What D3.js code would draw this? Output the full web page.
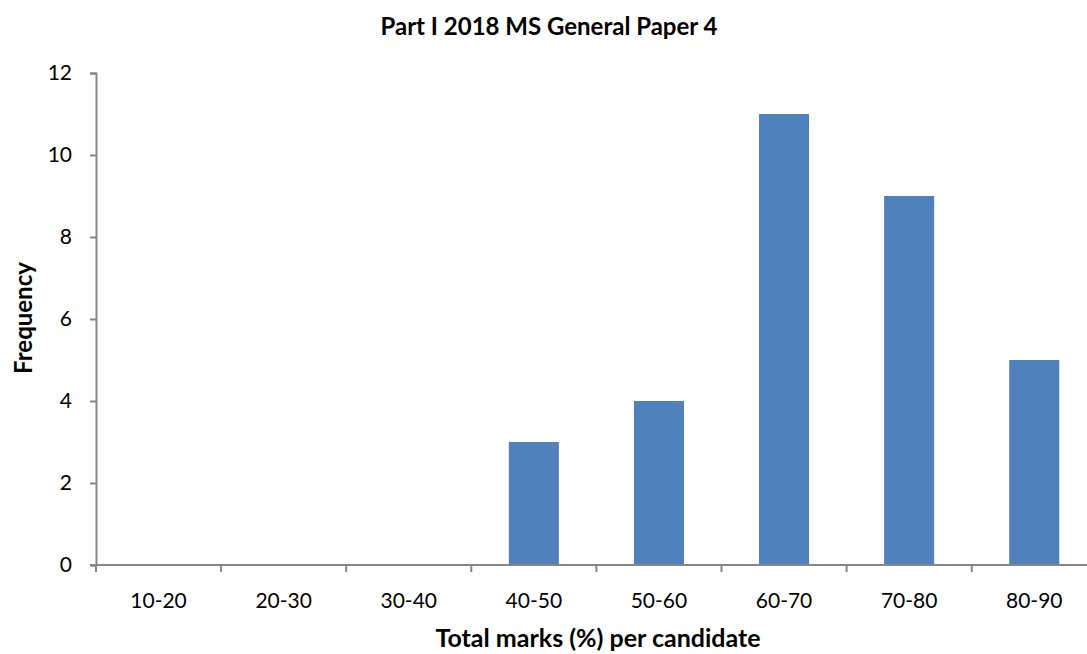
<!DOCTYPE html>
<html>
<head>
<meta charset="utf-8">
<script src="https://cdn.jsdelivr.net/npm/d3@7"></script>
<style>
  html, body { margin: 0; padding: 0; background: #fff; overflow: hidden; }
  svg { display: block; font-family: Lato, "Open Sans", sans-serif; }
</style>
</head>
<body>
<svg id="chart" width="1087" height="654"></svg>
<script>
// Mark bands and number of candidates in each
const categories = ["10-20", "20-30", "30-40", "40-50", "50-60", "60-70", "70-80", "80-90"];
const frequency = [0, 0, 0, 3, 4, 11, 9, 5];
const yTicks = [0, 2, 4, 6, 8, 10, 12];

const svg = d3.select("#chart");
const plot = { left: 96, top: 73, bottom: 565, step: 125.1 };
plot.right = plot.left + plot.step * categories.length;

const x = d3.scaleBand()
  .domain(categories)
  .range([plot.left, plot.right])
  .paddingInner(0.6)
  .paddingOuter(0.3);

const y = d3.scaleLinear().domain([0, 12]).range([plot.bottom, plot.top]);

const axisColor = "#868686";

// Bars
svg.append("g").selectAll("rect")
  .data(categories.map((c, i) => ({ c, v: frequency[i] })))
  .join("rect")
  .attr("x", d => x(d.c))
  .attr("y", d => y(d.v))
  .attr("width", x.bandwidth())
  .attr("height", d => y(0) - y(d.v))
  .attr("fill", "#4F81BD");

// Y axis
const yAxis = svg.append("g")
  .attr("transform", `translate(${plot.left},0)`)
  .call(d3.axisLeft(y).tickValues(yTicks).tickSize(6).tickPadding(18));
yAxis.select(".domain").attr("stroke", axisColor).attr("stroke-width", 2);
yAxis.selectAll(".tick line").attr("stroke", axisColor).attr("stroke-width", 2);
yAxis.selectAll(".tick text")
  .attr("fill", "#000").attr("font-size", 21).attr("font-family", "Lato, sans-serif");

// X axis: line with boundary ticks between bands
const xAxisG = svg.append("g");
xAxisG.append("line")
  .attr("x1", plot.left - 6).attr("x2", plot.right)
  .attr("y1", plot.bottom).attr("y2", plot.bottom)
  .attr("stroke", axisColor).attr("stroke-width", 2);
const step = x.step();
const boundaries = categories.map((c, i) => plot.left + i * step);
xAxisG.selectAll("line.tick")
  .data(boundaries)
  .join("line")
  .attr("class", "tick")
  .attr("x1", d => d).attr("x2", d => d)
  .attr("y1", plot.bottom).attr("y2", plot.bottom + 7)
  .attr("stroke", axisColor).attr("stroke-width", 2);
xAxisG.selectAll("text")
  .data(categories)
  .join("text")
  .attr("x", d => x(d) + x.bandwidth() / 2)
  .attr("y", 608)
  .attr("text-anchor", "middle")
  .attr("font-size", 21)
  .attr("fill", "#000")
  .text(d => d);

// Titles
svg.append("text")
  .attr("x", 549).attr("y", 35)
  .attr("text-anchor", "middle")
  .attr("font-size", 24).attr("font-weight", "bold")
  .text("Part I 2018 MS General Paper 4");

svg.append("text")
  .attr("x", 598).attr("y", 647)
  .attr("text-anchor", "middle")
  .attr("font-size", 25).attr("font-weight", "bold")
  .text("Total marks (%) per candidate");

svg.append("text")
  .attr("transform", "translate(32,318) rotate(-90)")
  .attr("text-anchor", "middle")
  .attr("font-size", 24).attr("font-weight", "bold")
  .text("Frequency");
</script>
</body>
</html>
